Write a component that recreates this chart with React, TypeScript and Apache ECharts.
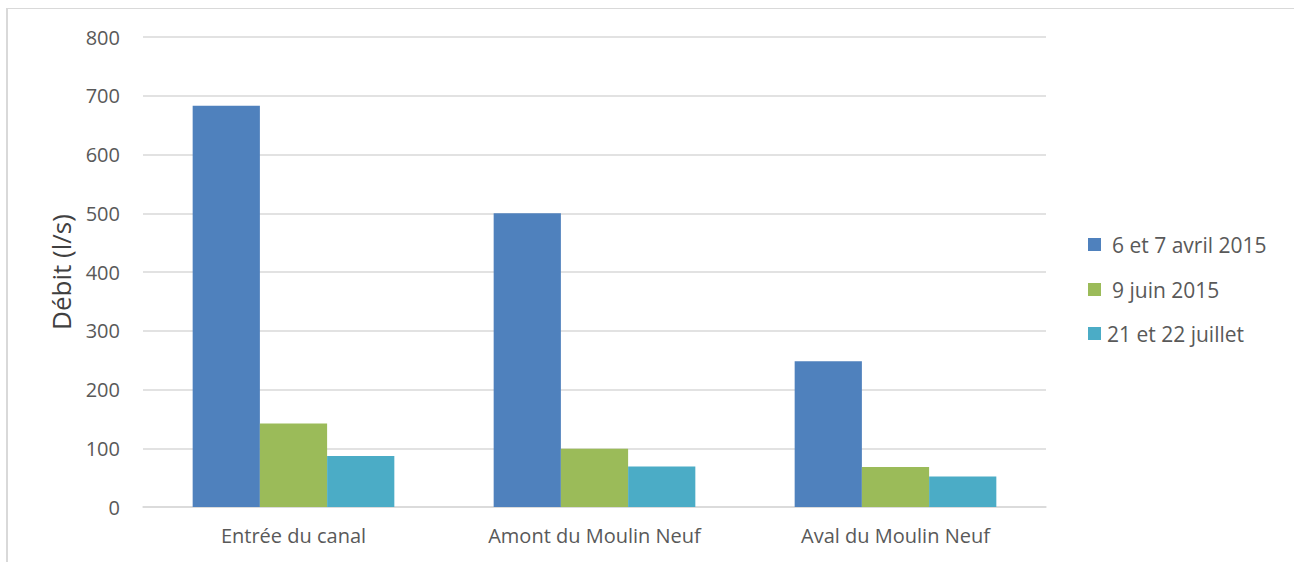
import React, { useEffect, useRef } from "react";
import * as echarts from "echarts";

// Stations along the canal
const categories = ["Entrée du canal", "Amont du Moulin Neuf", "Aval du Moulin Neuf"];

// Measurement campaigns
const seriesNames = ["6 et 7 avril 2015", "9 juin 2015", "21 et 22 juillet"];

// Flow (l/s) per campaign, in station order
const avril2015 = [683, 500, 248];
const juin2015 = [142, 99, 68];
const juillet = [87, 69, 52];

const yTicks = { min: 0, max: 800, interval: 100 };

const colors = ["#4F81BD", "#9BBB59", "#4BACC6"];
const FONT = "'Open Sans', 'Noto Sans', sans-serif";
const TEXT_GREY = "#595959";
const GRID_GREY = "#d9d9d9";

export default function App() {
  const ref = useRef<HTMLDivElement>(null);

  useEffect(() => {
    if (!ref.current) return;
    const chart = echarts.init(ref.current, undefined, { renderer: "svg" });
    const values = [avril2015, juin2015, juillet];

    // one legend block per campaign so each row can be placed on its own
    const legendTops = [229, 274, 318];
    const legendPads = [[0, 0, 0, 6], [0, 0, 0, 6], [0, 0, 0, 1]];

    chart.setOption({
      animation: false,
      backgroundColor: "#ffffff",
      textStyle: { fontFamily: FONT },
      grid: { left: 143, right: 248, top: 37, bottom: 55, containLabel: false },
      legend: seriesNames.map((name, i) => ({
        data: [name],
        left: 1083,
        top: legendTops[i],
        orient: "vertical",
        icon: "rect",
        itemWidth: 13,
        itemHeight: 13,
        textStyle: {
          color: TEXT_GREY,
          fontSize: 21,
          fontFamily: FONT,
          padding: legendPads[i],
        },
        selectedMode: false,
      })),
      xAxis: {
        type: "category",
        data: categories,
        axisLine: { show: true, lineStyle: { color: GRID_GREY, width: 1.5 } },
        axisTick: { show: false },
        axisLabel: { color: TEXT_GREY, fontSize: 20, fontFamily: FONT, margin: 18 },
      },
      yAxis: {
        type: "value",
        min: yTicks.min,
        max: yTicks.max,
        interval: yTicks.interval,
        axisLine: { show: false },
        axisTick: { show: false },
        axisLabel: { color: TEXT_GREY, fontSize: 20, fontFamily: FONT, margin: 23 },
        splitLine: { show: true, lineStyle: { color: GRID_GREY, width: 1.5 } },
      },
      series: seriesNames.map((name, i) => ({
        name,
        type: "bar",
        data: values[i],
        itemStyle: { color: colors[i] },
        barGap: "0%",
        barCategoryGap: "33%",
      })),
      graphic: [
        {
          type: "rect",
          shape: { x: 6, y: 8, width: 2, height: 554 },
          style: { fill: GRID_GREY },
          silent: true,
        },
        {
          type: "rect",
          shape: { x: 6, y: 8, width: 1288, height: 1 },
          style: { fill: GRID_GREY },
          silent: true,
        },
        {
          type: "text",
          x: 61,
          y: 272,
          rotation: Math.PI / 2,
          style: {
            text: "Débit (l/s)",
            fill: "#404040",
            fontSize: 26,
            fontFamily: FONT,
            align: "center",
            verticalAlign: "middle",
          },
          silent: true,
        },
      ],
    });

    return () => chart.dispose();
  }, []);

  return (
    <div style={{ position: "fixed", left: 0, top: 0, width: 1294, height: 562, background: "#fff" }}>
      <div ref={ref} style={{ width: 1294, height: 562 }} />
    </div>
  );
}
